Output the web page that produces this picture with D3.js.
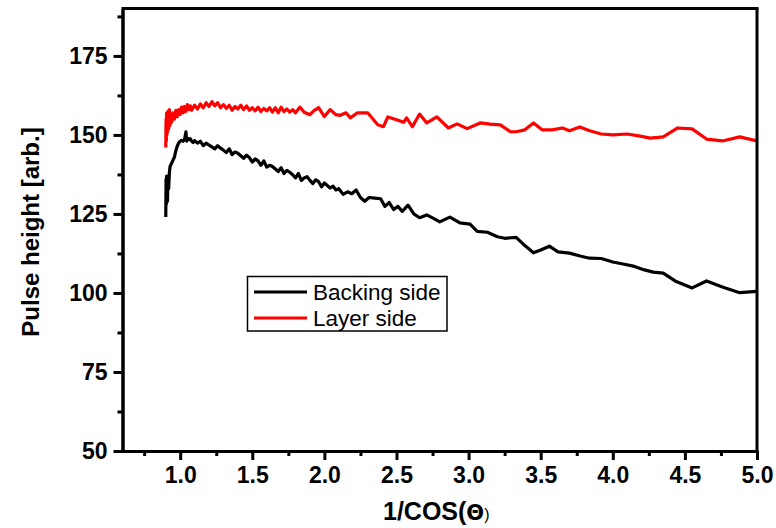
<!DOCTYPE html>
<html>
<head>
<meta charset="utf-8">
<script src="https://cdn.jsdelivr.net/npm/d3@7"></script>
<style>
html,body{margin:0;padding:0;background:#fff;}
svg{display:block;}
</style>
</head>
<body>
<svg id="chart" width="776" height="528"></svg>
<script>
// ---- data ----
const backingX = [0.900,0.902,0.904,0.906,0.908,0.910,0.912,0.915,0.920,0.925,0.930,0.940,0.950,0.960,0.970,0.980,0.990,1.000,1.010,1.020,1.030,1.040,1.045,1.050,1.060,1.070,1.080,1.090,1.100,1.120,1.140,1.160,1.180,1.200,1.220,1.240,1.260,1.280,1.300,1.320,1.340,1.360,1.380,1.400,1.420,1.440,1.460,1.480,1.500,1.520,1.540,1.560,1.580,1.600,1.620,1.640,1.660,1.680,1.700,1.720,1.740,1.760,1.780,1.800,1.820,1.840,1.860,1.880,1.900,1.920,1.940,1.960,1.980,2.000,2.020,2.040,2.060,2.080,2.100,2.130,2.160,2.190,2.220,2.250,2.280,2.310,2.350,2.390,2.420,2.450,2.480,2.510,2.540,2.580,2.620,2.660,2.710,2.760,2.800,2.870,2.940,3.010,3.060,3.130,3.200,3.250,3.330,3.390,3.450,3.500,3.560,3.620,3.700,3.780,3.840,3.920,4.000,4.080,4.150,4.220,4.280,4.350,4.440,4.550,4.650,4.760,4.880,5.000];
const backingY = [124,136,128,137,130,135,129,137,133,138,140,141,142,143,145,146.5,147.5,148,148.3,148,148.5,151,148,149,148.5,148.8,148,147.6,148.2,147.4,148,146.6,147.4,146.8,146.2,145.6,146.6,145.8,145.2,144.4,145.6,143.8,144.6,144.2,143.4,142.6,143.6,142.8,141.4,142.4,141.8,140.4,141.8,139.8,140.4,140,139.2,138.4,139.6,137.8,138.8,138.2,137.4,136.4,137.8,135.6,136.4,136.8,135.6,134.6,135.8,135.2,133.6,134.8,134,133.2,133.8,132.6,133,131.2,132,131.4,132.6,130.2,129,130.2,130,129.8,127.4,128.6,126.4,127.4,125.8,127.8,125,123.8,124.7,123.5,122.5,124,122.2,121.8,119.5,119.2,117.8,117.3,117.6,115,112.7,113.6,114.8,113,112.6,111.6,111,110.9,109.8,109.1,108.4,107.3,106.6,106.3,103.6,101.6,103.8,101.9,100.1,100.5];

const layerX = [0.900,0.902,0.904,0.906,0.908,0.910,0.913,0.916,0.920,0.925,0.930,0.935,0.940,0.950,0.960,0.970,0.980,0.990,1.000,1.010,1.020,1.030,1.040,1.050,1.060,1.070,1.080,1.100,1.120,1.140,1.160,1.180,1.200,1.220,1.240,1.260,1.280,1.300,1.320,1.340,1.360,1.380,1.400,1.420,1.440,1.460,1.480,1.500,1.520,1.540,1.560,1.580,1.600,1.620,1.640,1.660,1.680,1.700,1.720,1.740,1.760,1.780,1.800,1.830,1.860,1.900,1.930,1.960,2.000,2.040,2.080,2.110,2.150,2.180,2.230,2.300,2.370,2.410,2.440,2.500,2.550,2.570,2.610,2.660,2.710,2.780,2.860,2.920,2.990,3.080,3.150,3.220,3.290,3.330,3.390,3.450,3.510,3.580,3.650,3.700,3.770,3.840,3.920,4.000,4.100,4.190,4.260,4.350,4.450,4.550,4.650,4.760,4.880,5.000];
const layerY = [146,155,148,157,150,156,151,157.5,152,158,153,156.5,154,157,155,157.8,155.8,158,156.5,158.8,157,159,157.4,159.6,158,159.2,157.8,159.4,158.2,159.8,158.6,160.2,159,160.5,159.2,160.2,158.6,159.6,158.4,159.4,157.8,159,158.2,159.4,158,159.2,157.8,158.6,157.6,158.8,157.4,158.4,157.6,158.6,157.2,158.6,157,158.8,157.4,158.2,157.2,158,157,158.8,157.2,156.4,157.8,158.6,155.8,158,156.4,156.2,157,155.4,157,157,153.2,152.6,155.7,154.8,154,155.4,152.6,156.6,153.8,155.7,152.2,153.5,152,153.8,153.4,153.2,151,151,151.6,153.8,151.6,151.6,152.2,151.3,152.5,151.3,150.3,150,150.3,149.6,149,149.4,152.2,151.9,148.7,148.1,149.4,148.1];

const xMajorTicks = [1.0,1.5,2.0,2.5,3.0,3.5,4.0,4.5,5.0];
const xMinorTicks = [0.75,1.25,1.75,2.25,2.75,3.25,3.75,4.25,4.75];
const yMajorTicks = [50,75,100,125,150,175];
const yMinorTicks = [62.5,87.5,112.5,137.5,162.5,187.5];
const seriesNames = ["Backing side","Layer side"];
const seriesColors = ["#000000","#ff0000"];

// ---- layout ----
const svg = d3.select("#chart");
const L = 122.5, R = 757, T = 8.5, B = 451;
const x = d3.scaleLinear().domain([0.6,5.0]).range([L,R]);
const y = d3.scaleLinear().domain([50,190]).range([B,T]);
const fontBold = "'Liberation Sans', Arial, Helvetica, sans-serif";

// lines
const line = d3.line().x(d=>x(d[0])).y(d=>y(d[1]));
svg.append("clipPath").attr("id","clip").append("rect")
  .attr("x",L).attr("y",T).attr("width",R-L).attr("height",B-T);
const series = [
  {name:seriesNames[0], color:seriesColors[0], pts:d3.zip(backingX,backingY)},
  {name:seriesNames[1], color:seriesColors[1], pts:d3.zip(layerX,layerY)}
];
svg.append("g").attr("clip-path","url(#clip)").selectAll("path").data(series).join("path")
  .attr("d",d=>line(d.pts)).attr("fill","none").attr("stroke",d=>d.color)
  .attr("stroke-width",3.2).attr("stroke-linejoin","round");

// frame
svg.append("line").attr("x1",L).attr("x2",R+1.5).attr("y1",T).attr("y2",T).attr("stroke","#000").attr("stroke-width",3);
svg.append("line").attr("x1",R).attr("x2",R).attr("y1",T).attr("y2",B).attr("stroke","#000").attr("stroke-width",3);

// axes
function styleAxis(g){
  g.select(".domain").attr("stroke-width",3).attr("stroke","#000");
  g.selectAll(".tick line").attr("stroke-width",3).attr("stroke","#000");
  g.selectAll(".tick text").attr("font-family",fontBold).attr("font-weight","bold")
   .attr("font-size",23).attr("fill","#000");
}
const gxMinor = svg.append("g").attr("transform",`translate(0,${B})`)
  .call(d3.axisBottom(x).tickValues(xMinorTicks).tickSize(5).tickFormat("").tickSizeOuter(0));
styleAxis(gxMinor);
const gx = svg.append("g").attr("transform",`translate(0,${B})`)
  .call(d3.axisBottom(x).tickValues(xMajorTicks).tickSize(9).tickPadding(7).tickFormat(d3.format(".1f")).tickSizeOuter(0));
styleAxis(gx);
gx.select(".domain").attr("d",`M${L-1.5},0.5H${R+1.5}`);

const gyMinor = svg.append("g").attr("transform",`translate(${L},0)`)
  .call(d3.axisLeft(y).tickValues(yMinorTicks).tickSize(5).tickFormat("").tickSizeOuter(0));
styleAxis(gyMinor);
const gy = svg.append("g").attr("transform",`translate(${L},0)`)
  .call(d3.axisLeft(y).tickValues(yMajorTicks).tickSize(9).tickPadding(6).tickFormat(d3.format("d")).tickSizeOuter(0));
styleAxis(gy);
gy.select(".domain").attr("d",`M0.5,${T-1.5}V${B+1.5}`);

// axis titles
const xt = svg.append("text").attr("x",383).attr("y",520)
  .attr("font-family",fontBold).attr("font-weight","bold").attr("font-size",25).attr("fill","#000");
xt.append("tspan").text("1/COS(");
xt.append("tspan").attr("font-family","'DejaVu Sans', sans-serif").attr("font-size",21).text("Θ");
xt.append("tspan").attr("font-weight","normal").attr("font-size",16).text(")");

svg.append("text").attr("transform",`translate(39,232) rotate(-90)`)
  .attr("text-anchor","middle").attr("font-family",fontBold).attr("font-weight","bold")
  .attr("font-size",24).attr("fill","#000").text("Pulse height [arb.]");

// legend
const lg = svg.append("g");
lg.append("rect").attr("x",247.5).attr("y",276.5).attr("width",199.5).attr("height",54.5)
  .attr("fill","#fff").attr("stroke","#000").attr("stroke-width",1.5);
series.forEach((s,i)=>{
  const yy = 292 + i*26;
  lg.append("line").attr("x1",254).attr("x2",307).attr("y1",yy).attr("y2",yy)
    .attr("stroke",s.color).attr("stroke-width",3);
  lg.append("text").attr("x",313).attr("y",yy+7.5).attr("font-family",fontBold)
    .attr("font-size",22.5).attr("fill","#000").text(s.name);
});
</script>
</body>
</html>
